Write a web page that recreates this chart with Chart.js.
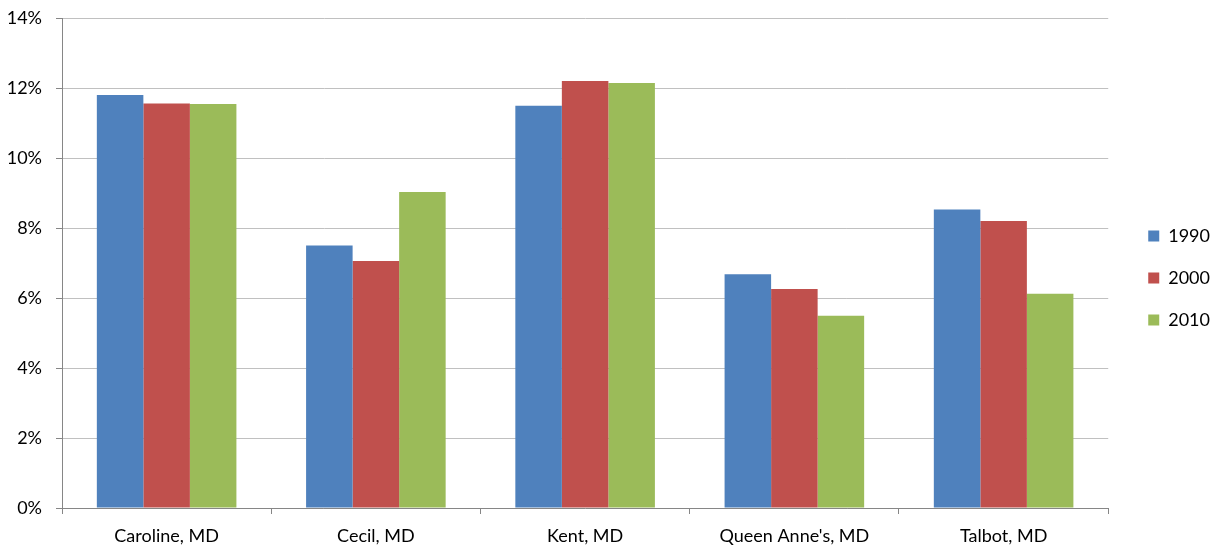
<!DOCTYPE html>
<html><head><meta charset="utf-8">
<script src="https://cdn.jsdelivr.net/npm/chart.js@4/dist/chart.umd.min.js"></script>
<style>html,body{margin:0;padding:0;background:#fff}#wrap{width:1215px;height:548px}</style>
</head><body><div id="wrap"><canvas id="c" width="1215" height="548"></canvas></div>
<script>
const categories = ["Caroline, MD", "Cecil, MD", "Kent, MD", "Queen Anne's, MD", "Talbot, MD"];
const series1990 = [11.8, 7.5, 11.49, 6.68, 8.53];
const series2000 = [11.56, 7.06, 12.2, 6.26, 8.2];
const series2010 = [11.54, 9.03, 12.14, 5.49, 6.12];
const yTicks = [0, 2, 4, 6, 8, 10, 12, 14];

const LEGEND_PAD = 24;
const legendShift = {
  id: 'legendShift',
  afterLayout(chart) {
    const l = chart.legend;
    if (!l) return;
    const dx = chart.chartArea.right + 40 - (l.left + LEGEND_PAD);
    l.left += dx; l.right += dx;
    l.top -= 5; l.bottom -= 5;
  }
};

new Chart(document.getElementById('c'), {
  type: 'bar',
  data: {
    labels: categories,
    datasets: [
      { label: '1990', data: series1990, backgroundColor: '#4F81BD' },
      { label: '2000', data: series2000, backgroundColor: '#C0504D' },
      { label: '2010', data: series2010, backgroundColor: '#9BBB59' }
    ]
  },
  options: {
    responsive: false,
    animation: false,
    devicePixelRatio: 1,
    layout: { padding: { top: 18, right: 11, bottom: 0, left: 0 } },
    datasets: { bar: { categoryPercentage: 0.667, barPercentage: 1.0, borderWidth: 0 } },
    plugins: {
      tooltip: { enabled: false },
      legend: {
        position: 'right',
        labels: { font: { family: 'Lato', size: 18 }, color: '#000', boxWidth: 11, boxHeight: 11, padding: LEGEND_PAD }
      }
    },
    scales: {
      x: {
        grid: { display: true, drawOnChartArea: false, drawTicks: true, tickLength: 6, offset: true, color: '#868686' },
        border: { color: '#868686' },
        ticks: { font: { family: 'Lato', size: 18 }, color: '#000', padding: 11, maxRotation: 0 },
        afterFit(s) { s.height = 40; s.paddingLeft = 0; s.paddingRight = 0; }
      },
      y: {
        min: 0, max: 14,
        afterBuildTicks(s) { s.ticks = yTicks.map(v => ({ value: v })); },
        grid: { color: '#c0c0c0', tickLength: 6, tickColor: '#868686' },
        border: { color: '#868686' },
        ticks: { font: { family: 'Lato', size: 18 }, color: '#000', padding: 14, callback: v => v + '%' },
        afterFit(s) { s.width = 62; s.paddingTop = 0; s.paddingBottom = 0; }
      }
    }
  },
  plugins: [legendShift]
});
</script>
</body></html>
